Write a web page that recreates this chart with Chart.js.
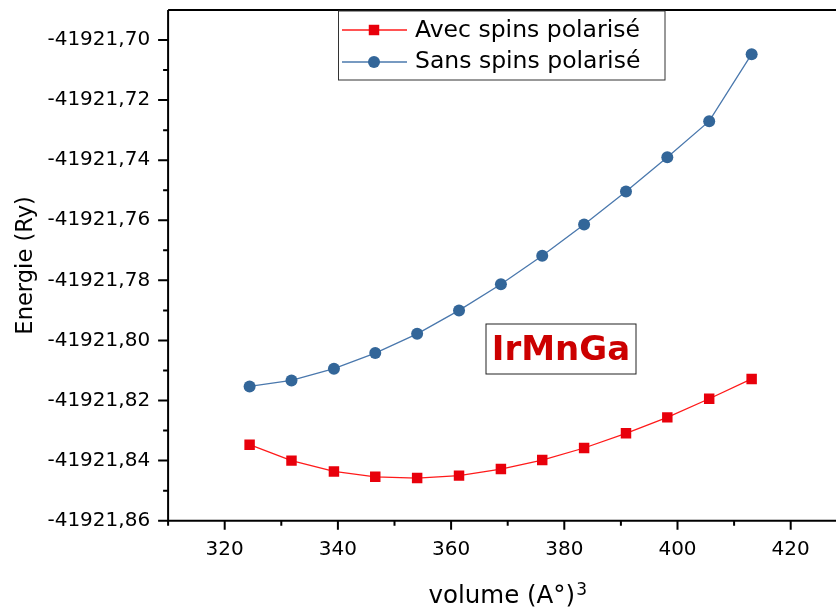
<!DOCTYPE html>
<html>
<head>
<meta charset="utf-8">
<script src="https://cdn.jsdelivr.net/npm/chart.js@4.4.1/dist/chart.umd.min.js"></script>
<style>
  html, body { margin: 0; padding: 0; background: #fff; overflow: hidden; width: 836px; height: 608px; }
  #wrap { width: 860px; height: 608px; }
</style>
</head>
<body>
<div id="wrap"><canvas id="energyChart" width="860" height="608"></canvas></div>
<script>
// Data
const volumes = [324.4, 331.8, 339.3, 346.6, 354.0, 361.4, 368.8, 376.1, 383.5, 390.9, 398.2, 405.6, 413.1];
const energyAvec = [-41921.8347, -41921.8400, -41921.8436, -41921.8454, -41921.8458, -41921.8450, -41921.8428,
                    -41921.8398, -41921.8358, -41921.8309, -41921.8256, -41921.8194, -41921.8128];
const energySans = [-41921.8153, -41921.8133, -41921.8094, -41921.8042, -41921.7978, -41921.7900, -41921.7813,
                    -41921.7718, -41921.7614, -41921.7504, -41921.7390, -41921.7270, -41921.7047];
const seriesLabels = ['Avec spins polarisé', 'Sans spins polarisé'];

const xTicks = [320, 340, 360, 380, 400, 420];
const xMinorTicks = [310, 330, 350, 370, 390, 410, 430];
const yTicks = [-41921.86, -41921.84, -41921.82, -41921.80, -41921.78, -41921.76, -41921.74, -41921.72, -41921.70];
const yMinorTicks = [-41921.85, -41921.83, -41921.81, -41921.79, -41921.77, -41921.75, -41921.73, -41921.71];

const xTitle = 'volume (A°)';
const xTitleSup = '3';
const yTitle = 'Energie (Ry)';
const compoundName = 'IrMnGa';

const FONT = 'DejaVu Sans';

// Frame, ticks, axis titles, legend and the compound label
const decorations = {
    id: 'decorations',
    afterDraw(chart) {
        const ctx = chart.ctx;
        const area = chart.chartArea;
        const xs = chart.scales.x;
        const ys = chart.scales.y;
        ctx.save();
        ctx.strokeStyle = '#000';
        ctx.lineCap = 'butt';

        // axes + top line
        ctx.lineWidth = 2;
        ctx.beginPath();
        ctx.moveTo(area.left, area.top);
        ctx.lineTo(chart.width, area.top);
        ctx.moveTo(area.left, area.top);
        ctx.lineTo(area.left, area.bottom);
        ctx.moveTo(area.left - 1, area.bottom);
        ctx.lineTo(chart.width, area.bottom);
        ctx.stroke();

        // ticks (outward)
        ctx.beginPath();
        xTicks.forEach(v => {
            const px = xs.getPixelForValue(v);
            ctx.moveTo(px, area.bottom);
            ctx.lineTo(px, area.bottom + 9);
        });
        xMinorTicks.forEach(v => {
            const px = xs.getPixelForValue(v);
            ctx.moveTo(px, area.bottom);
            ctx.lineTo(px, area.bottom + 5);
        });
        yTicks.forEach(v => {
            const py = ys.getPixelForValue(v);
            ctx.moveTo(area.left, py);
            ctx.lineTo(area.left - 10, py);
        });
        yMinorTicks.forEach(v => {
            const py = ys.getPixelForValue(v);
            ctx.moveTo(area.left, py);
            ctx.lineTo(area.left - 5, py);
        });
        ctx.stroke();

        // axis titles
        ctx.fillStyle = '#000';
        ctx.textBaseline = 'alphabetic';
        ctx.textAlign = 'left';
        ctx.font = '24.5px "' + FONT + '"';
        const mainW = ctx.measureText(xTitle).width;
        ctx.font = '17px "' + FONT + '"';
        const supW = ctx.measureText(xTitleSup).width;
        const tx = (area.left + area.right) / 2 - (mainW + supW + 1) / 2;
        ctx.font = '24.5px "' + FONT + '"';
        ctx.fillText(xTitle, tx, 602.5);
        ctx.font = '17px "' + FONT + '"';
        ctx.fillText(xTitleSup, tx + mainW + 1, 594.5);

        ctx.save();
        ctx.translate(32, (area.top + area.bottom) / 2);
        ctx.rotate(-Math.PI / 2);
        ctx.textAlign = 'center';
        ctx.font = '22.6px "' + FONT + '"';
        ctx.fillText(yTitle, 0, 0);
        ctx.restore();

        // legend
        const lg = { x: 338.5, y: 11, w: 326.5, h: 69 };
        ctx.fillStyle = '#fff';
        ctx.fillRect(lg.x, lg.y, lg.w, lg.h);
        ctx.lineWidth = 1;
        ctx.strokeStyle = '#333';
        ctx.strokeRect(lg.x, lg.y, lg.w, lg.h);
        const rows = [30, 62];
        const baselines = [36.7, 68.3];
        chart.data.datasets.forEach((ds, i) => {
            const yy = rows[i];
            ctx.strokeStyle = ds.borderColor;
            ctx.lineWidth = 1.3;
            ctx.beginPath();
            ctx.moveTo(342, yy);
            ctx.lineTo(407, yy);
            ctx.stroke();
            ctx.fillStyle = ds.pointBackgroundColor;
            if (ds.pointStyle === 'rect') {
                const h = ds.pointRadius * Math.SQRT1_2;
                ctx.fillRect(374 - h, yy - h, 2 * h, 2 * h);
            } else {
                ctx.beginPath();
                ctx.arc(374, yy, ds.pointRadius, 0, Math.PI * 2);
                ctx.fill();
            }
            ctx.fillStyle = '#000';
            ctx.font = '23.5px "' + FONT + '"';
            ctx.textAlign = 'left';
            ctx.textBaseline = 'alphabetic';
            ctx.fillText(ds.label, 415, baselines[i]);
        });

        // compound label
        ctx.fillStyle = '#fff';
        ctx.fillRect(486, 324, 150, 50);
        ctx.strokeStyle = '#222';
        ctx.lineWidth = 1;
        ctx.strokeRect(486, 324, 150, 50);
        ctx.fillStyle = '#cc0000';
        ctx.font = 'bold 34px "' + FONT + '"';
        ctx.textAlign = 'center';
        ctx.fillText(compoundName, 561, 360);

        ctx.restore();
    }
};

new Chart(document.getElementById('energyChart'), {
    type: 'line',
    data: {
        datasets: [
            {
                label: seriesLabels[0],
                data: volumes.map((v, i) => ({ x: v, y: energyAvec[i] })),
                borderColor: '#ff1a1a',
                borderWidth: 1.3,
                pointStyle: 'rect',
                pointRadius: 7.4,
                pointBorderWidth: 0,
                pointBackgroundColor: '#e8000b',
                tension: 0
            },
            {
                label: seriesLabels[1],
                data: volumes.map((v, i) => ({ x: v, y: energySans[i] })),
                borderColor: '#4a78ad',
                borderWidth: 1.3,
                pointStyle: 'circle',
                pointRadius: 6,
                pointBorderWidth: 0,
                pointBackgroundColor: '#336699',
                tension: 0
            }
        ]
    },
    options: {
        responsive: false,
        animation: false,
        devicePixelRatio: 1,
        layout: { padding: { top: 10, right: 12.7, left: 0, bottom: 0 } },
        plugins: {
            legend: { display: false },
            tooltip: { enabled: false }
        },
        scales: {
            x: {
                type: 'linear',
                min: 310,
                max: 430,
                afterBuildTicks: scale => { scale.ticks = xTicks.map(v => ({ value: v })); },
                afterFit: scale => {
                    scale.height = 87.3;
                    scale.paddingLeft = 0;
                    scale.paddingRight = 0;
                },
                grid: { display: false, drawTicks: false },
                border: { display: false },
                ticks: {
                    color: '#000',
                    font: { family: FONT, size: 20 },
                    padding: 17,
                    maxRotation: 0,
                    autoSkip: false
                }
            },
            y: {
                type: 'linear',
                min: -41921.86,
                max: -41921.69,
                afterBuildTicks: scale => { scale.ticks = yTicks.map(v => ({ value: v })); },
                afterFit: scale => {
                    scale.width = 168.1;
                    scale.paddingTop = 0;
                    scale.paddingBottom = 0;
                },
                grid: { display: false, drawTicks: false },
                border: { display: false },
                ticks: {
                    color: '#000',
                    font: { family: FONT, size: 20 },
                    padding: 18,
                    autoSkip: false,
                    callback: v => v.toFixed(2).replace('.', ',')
                }
            }
        }
    },
    plugins: [decorations]
});
</script>
</body>
</html>
